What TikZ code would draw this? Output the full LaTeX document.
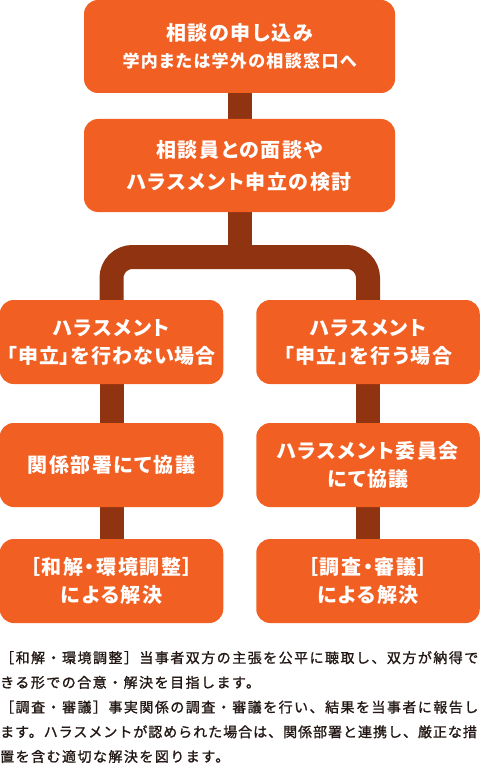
\documentclass[tikz,border=0pt]{standalone}
\usepackage{fontspec}
\usetikzlibrary{backgrounds}
\newfontfamily\jpbox[RawFeature=+palt,LetterSpace=8]{Noto Sans CJK JP}
\newfontfamily\jpboxtight[RawFeature=+palt,LetterSpace=5]{Noto Sans CJK JP}
\newfontfamily\jpnote[LetterSpace=10.5,FakeBold=1.2]{Noto Sans CJK JP}
\newfontfamily\jpnotetight[LetterSpace=7,FakeBold=1.2]{Noto Sans CJK JP}
\definecolor{boxorange}{HTML}{F15F22}
\definecolor{linkbrown}{HTML}{8F3311}
\definecolor{notetext}{HTML}{231815}
\tikzset{
  flowbox/.style={fill=boxorange, rounded corners=14pt, text=white, align=center,
    inner sep=0pt, font=\jpbox\bfseries\fontsize{20}{28}\selectfont},
  wideflow/.style={flowbox, minimum width=311pt, minimum height=93pt},
  sideflow/.style={flowbox, minimum width=223.5pt, minimum height=84pt},
  link/.style={draw=linkbrown, line width=24pt},
  noteline/.style={anchor=base west, inner sep=0pt, text=notetext, font=\jpnote\fontsize{14}{14}\selectfont}
}
\begin{document}
\begin{tikzpicture}[x=1pt,y=-1pt]
\useasboundingbox (0,0) rectangle (480,765);
\node[wideflow] (top) at (239.5,46.5) {相談の申し込み\\[-1pt]{\fontsize{17}{17}\selectfont 学内または学外の相談窓口へ}};
\node[wideflow, font=\jpbox\bfseries\fontsize{20}{32}\selectfont] (talk) at (239.5,165.5) {相談員との面談や\\ハラスメント申立の検討};
\node[sideflow] (noapp) at (111.5,342) {ハラスメント\\{\jpboxtight\bfseries「申立」を行わない場合}};
\node[sideflow] (app) at (368,342) {ハラスメント\\「申立」を行う場合};
\node[sideflow] (dept) at (111.5,465) {関係部署にて協議};
\node[sideflow] (comm) at (368,465) {ハラスメント委員会\\にて協議};
\node[sideflow] (wakai) at (111.5,581) {［和解・環境調整］\\による解決};
\node[sideflow] (chosa) at (368,581) {［調査・審議］\\による解決};
\coordinate (split) at (239.5,257);
\begin{pgfonlayer}{background}
\draw[link] (top.south) -- (talk.north);
\draw[link] (talk.south) -- (split);
\draw[link, rounded corners=21pt] (noapp.north) |- (split) -| (app.north);
\draw[link] (noapp.south) -- (dept.north);
\draw[link] (dept.south) -- (wakai.north);
\draw[link] (app.south) -- (comm.north);
\draw[link] (comm.south) -- (chosa.north);
\end{pgfonlayer}
\node[noteline] (n1) at (0,663) {［和解・環境調整］当事者双方の主張を公平に聴取し、双方が納得で};
\node[noteline] (n2) at (0,687.7) {きる形での合意・解決を目指します。};
\node[noteline] (n3) at (0,712.4) {［調査・審議］事実関係の調査・審議を行い、結果を当事者に報告し};
\node[noteline, font=\jpnotetight\fontsize{14}{14}\selectfont] (n4) at (0,737.1) {ます。ハラスメントが認められた場合は、関係部署と連携し、厳正な措};
\node[noteline] (n5) at (0,761.8) {置を含む適切な解決を図ります。};
\end{tikzpicture}
\end{document}
